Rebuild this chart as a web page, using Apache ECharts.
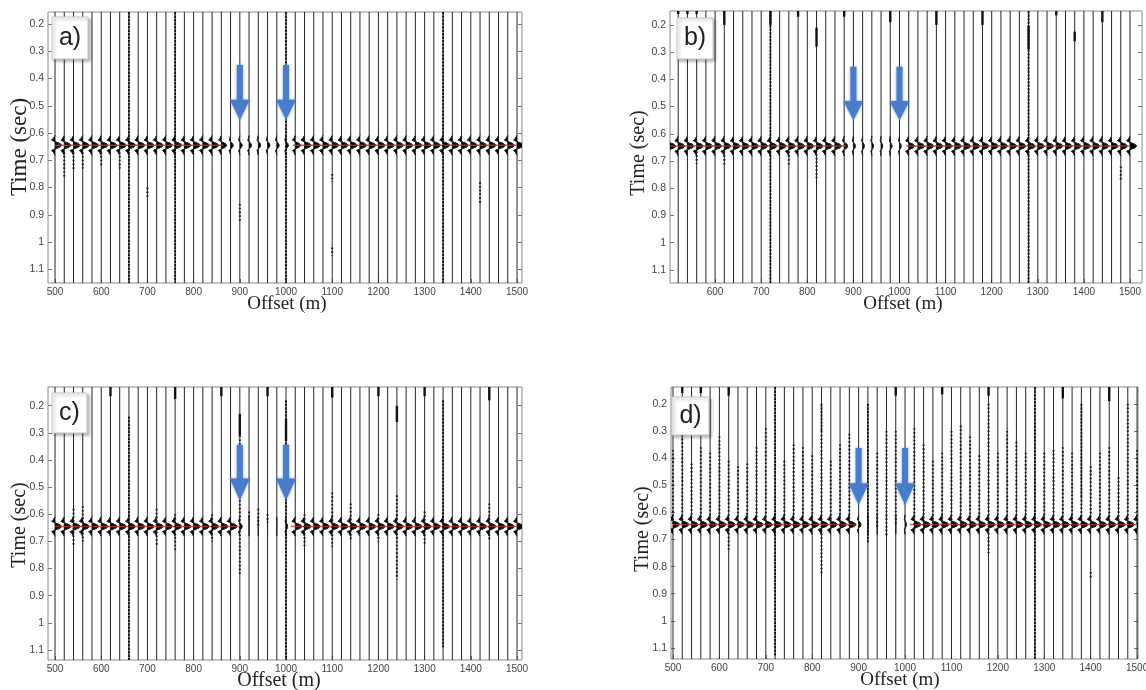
<!DOCTYPE html>
<html><head><meta charset="utf-8">
<script src="https://cdn.jsdelivr.net/npm/echarts@6.0.0/dist/echarts.min.js"></script>
<style>html,body{margin:0;padding:0;background:#fff}#chart{width:1146px;height:690px}</style>
</head><body><div id="chart"></div>
<script>
// ---------------- data ----------------
const offsets = [500,520,540,560,580,600,620,640,660,680,700,720,740,760,780,800,820,840,860,880,900,920,940,960,980,1000,1020,1040,1060,1080,1100,1120,1140,1160,1180,1200,1220,1240,1260,1280,1300,1320,1340,1360,1380,1400,1420,1440,1460,1480,1500];
const xTickValues = [500,600,700,800,900,1000,1100,1200,1300,1400,1500];
const yTickValues = [0.2,0.3,0.4,0.5,0.6,0.7,0.8,0.9,1.0,1.1];
const yTickLabels = ['0.2','0.3','0.4','0.5','0.6','0.7','0.8','0.9','1','1.1'];
const panelLabels = ['a)','b)','c)','d)'];
const eventTime = 0.645;
// wavelet shape (time shift in s, relative amplitude)
const waveletDt  = [-0.036,-0.027,-0.019,-0.012,-0.006,0,0.006,0.012,0.019,0.027,0.036];
const waveletAmp = [0,-0.2,-0.5,0.15,0.8,1,0.8,0.15,-0.5,-0.2,0];
// relative amplitude of the event on each trace (500..1500 m)
const ampA = [1,1,1,1,1,1,1,1,1,1,1,1,1,1,1,1,1,1, 0.8, 0.4, 0.35,0.35,0.35,0.35,0.35,0.35, 0.8, 1,1,1,1,1,1,1,1,1,1,1,1,1,1,1,1,1,1,1,1,1,1,1,1];
const ampB = [1,1,1,1,1,1,1,1,1,1,1,1,1,1,1,1,1,1,1, 0.55, 0.3, 0.25,0.25,0.25,0.25,0.25, 0.9, 1,1,1,1,1,1,1,1,1,1,1,1,1,1,1,1,1,1,1,1,1,1,1,1];
const ampC = [1,1,1,1,1,1,1,1,1,1,1,1,1,1,1,1,1,1,1,1, 0.35, 0,0,0,0, 0.25, 1,1,1,1,1,1,1,1,1,1,1,1,1,1,1,1,1,1,1,1,1,1,1,1,1];
const ampD = [1,1,1,1,1,1,1,1,1,1,1,1,1,1,1,1,1,1,1,1, 0.35, 0,0,0,0, 0.2, 1,1,1,1,1,1,1,1,1,1,1,1,1,1,1,1,1,1,1,1,1,1,1,1,1];
// red picked-event line segments [from offset, to offset]
const redA = [[500,865],[1015,1500]];
const redB = [[500,885],[1015,1500]];
const redC = [[500,897],[1010,1500]];
const redD = [[500,893],[1010,1500]];
// arrows: offsets and [shaft top, head start, tip] times
const arrowOffsets = [900,1000];
const arrowA = [0.350,0.478,0.552];
const arrowB = [0.354,0.480,0.550];
const arrowC = [0.344,0.468,0.548];
const arrowD = [0.363,0.493,0.573];
// noise on traces: [offset, t start, t end, kind] kind 0 = sparse dots, 1 = dense, 2 = solid
const noiseA = [[660,0.156,1.15,1],[760,0.156,1.15,1],[1000,0.156,1.15,1],[1340,0.156,1.15,1],
  [900,0.86,0.93,0],[520,0.67,0.76,0],[540,0.67,0.74,0],[560,0.67,0.73,0],[600,0.67,0.72,0],[640,0.67,0.73,0],
  [700,0.80,0.84,0],[1100,0.75,0.78,0],[1100,1.02,1.05,0],[1420,0.78,0.86,0]];
const noiseB = [[720,0.149,1.148,1],[1280,0.149,1.148,1],[720,0.149,0.20,2],[620,0.149,0.20,2],[780,0.149,0.17,2],
  [880,0.149,0.17,2],[980,0.149,0.19,2],[1080,0.149,0.20,2],[1180,0.149,0.20,2],[1340,0.149,0.165,2],[1440,0.149,0.19,2],
  [520,0.149,0.16,2],[540,0.149,0.16,2],[560,0.149,0.16,2],[820,0.21,0.28,2],[820,0.66,0.77,0],[1280,0.205,0.29,2],
  [1380,0.225,0.26,2],[1480,0.72,0.77,0],[560,0.665,0.71,0],[620,0.665,0.72,0],[760,0.665,0.72,0]];
const noiseC = [[660,0.24,1.137,1],[1000,0.18,1.137,1],[1340,0.18,1.09,1],[900,0.23,0.31,2],[900,0.31,0.82,0],[1000,0.25,0.33,2],
  [620,0.131,0.165,2],[760,0.131,0.175,2],[860,0.131,0.165,2],[960,0.131,0.165,2],[1100,0.131,0.17,2],[1200,0.131,0.165,2],
  [1300,0.131,0.165,2],[1440,0.131,0.18,2],[1240,0.20,0.26,2],[1240,0.53,0.84,0],[1100,0.52,0.72,0],[1140,0.56,0.70,0],
  [540,0.58,0.72,0],[560,0.57,0.70,0],[720,0.58,0.72,0],[760,0.60,0.74,0],[840,0.60,0.70,0],[920,0.59,0.62,0],
  [940,0.58,0.64,0],[960,0.60,0.63,0],[1040,0.60,0.72,0],[1200,0.60,0.70,0],[1300,0.59,0.71,0],[1440,0.56,0.70,0]];
const noiseD = [[500,0.37,0.65,0],[520,0.30,0.65,0],[520,0.138,0.16,2],[540,0.42,0.62,0],[560,0.36,0.66,0],[560,0.138,0.16,2],
  [580,0.38,0.65,0],[600,0.32,0.65,0],[620,0.138,0.17,2],[620,0.41,0.74,0],[640,0.43,0.65,0],[660,0.42,0.65,0],
  [680,0.36,0.65,0],[700,0.29,0.65,0],[720,0.138,1.13,1],[740,0.41,0.65,0],[760,0.35,0.65,0],[780,0.36,0.65,0],
  [800,0.39,0.65,0],[820,0.20,0.30,1],[820,0.30,0.83,0],[840,0.41,0.65,0],[860,0.35,0.65,0],[880,0.31,0.65,0],
  [920,0.20,0.71,1],[940,0.38,0.66,0],[960,0.30,0.69,0],[980,0.138,0.17,2],[980,0.30,0.65,0],[1020,0.29,0.67,0],
  [1040,0.35,0.67,0],[1060,0.41,0.66,0],[1080,0.138,0.165,2],[1080,0.38,0.65,0],[1100,0.30,0.65,0],[1120,0.28,0.65,0],
  [1140,0.32,0.66,0],[1160,0.39,0.65,0],[1180,0.138,0.17,2],[1180,0.20,0.75,0],[1200,0.38,0.65,0],[1220,0.30,0.65,0],
  [1240,0.34,0.65,0],[1260,0.38,0.65,0],[1280,0.138,1.14,1],[1300,0.38,0.65,0],[1320,0.37,0.65,0],[1340,0.138,0.18,2],
  [1340,0.36,0.65,0],[1360,0.38,0.65,0],[1380,0.20,0.54,1],[1380,0.54,0.65,0],[1400,0.43,0.65,0],[1400,0.82,0.84,0],
  [1420,0.38,0.65,0],[1440,0.138,0.19,2],[1440,0.36,0.65,0],[1460,0.47,0.66,0],[1480,0.20,0.65,0],[1500,0.37,0.65,0]];

// ---------------- layout / styles ----------------
const gain = 14; // metres of horizontal deflection for amplitude 1
const noiseStyles = [
  {color:'#1a1a1a', width:2, dash:[1.6,2.2]},
  {color:'#111', width:1.8, dash:[2.5,1]},
  {color:'#111', width:2.4, dash:null}
];
const panels = [
  {grid:{left:48,top:12,width:474,height:271}, x:[484.8,1510.8], y:[0.156,1.150], amp:ampA, red:redA, arrow:arrowA, noise:noiseA,
   box:[52,17,36,42], yT:[20,147,23], xT:[287,304,19]},
  {grid:{left:670,top:11,width:472,height:272}, x:[502.2,1526], y:[0.149,1.148], amp:ampB, red:redB, arrow:arrowB, noise:noiseB,
   box:[677,18,36,41], yT:[639,153,20], xT:[903,304,19]},
  {grid:{left:48,top:387,width:474,height:273}, x:[484.8,1510.8], y:[0.131,1.137], amp:ampC, red:redC, arrow:arrowC, noise:noiseC,
   box:[52,393,35,40], yT:[20,525,20], xT:[279,681,20]},
  {grid:{left:671,top:387,width:467,height:272}, x:[495.7,1502], y:[0.138,1.1405], amp:ampD, red:redD, arrow:arrowD, noise:noiseD,
   box:[672,397,37,38], yT:[643,529,20], xT:[900,680,19]}
];

function traceRenderer(yMin, yMax) {
  return function (params, api) {
    const off = api.value(0), t0 = api.value(1), amp = api.value(2);
    const line = [api.coord([off, yMin])];
    const fill = [api.coord([off, t0 + waveletDt[0]])];
    for (let k = 0; k < waveletDt.length; k++) {
      const d = amp * gain * waveletAmp[k];
      const pt = api.coord([off + d, t0 + waveletDt[k]]);
      line.push(pt);
      fill.push(pt);
    }
    line.push(api.coord([off, yMax]));
    fill.push(api.coord([off, t0 + waveletDt[waveletDt.length - 1]]));
    return {type:'group', children:[
      {type:'polygon', shape:{points:fill}, style:{fill:'#000', stroke:'#000', lineWidth:0.8}},
      {type:'polyline', shape:{points:line}, style:{stroke:'#262626', lineWidth:1, fill:null}}
    ]};
  };
}
function redRenderer(params, api) {
  const a = api.coord([api.value(0), api.value(2)]), b = api.coord([api.value(1), api.value(2)]);
  return {type:'line', shape:{x1:a[0],y1:a[1],x2:b[0],y2:b[1]}, style:{stroke:'#b8392f', lineWidth:1.6, opacity:0.8}};
}
function noiseRenderer(params, api) {
  const off = api.value(0);
  const a = api.coord([off, api.value(1)]), b = api.coord([off, api.value(2)]);
  const s = noiseStyles[api.value(3)];
  return {type:'line', shape:{x1:a[0],y1:a[1],x2:b[0],y2:b[1]}, style:{stroke:s.color, lineWidth:s.width, lineDash:s.dash}};
}
function arrowRenderer(params, api) {
  const off = api.value(0);
  const top = api.coord([off, api.value(1)]), head = api.coord([off, api.value(2)]), tip = api.coord([off, api.value(3)]);
  const x = top[0], sw = 3, hw = 10;
  return {type:'polygon', shape:{points:[[x-sw,top[1]],[x+sw,top[1]],[x+sw,head[1]],[x+hw,head[1]],[x,tip[1]],[x-hw,head[1]],[x-sw,head[1]]]},
    style:{fill:'#4a7cc9', shadowBlur:3, shadowColor:'rgba(74,124,201,0.7)'}};
}
function yLabel(v) {
  const i = yTickValues.findIndex(t => Math.abs(t - v) < 1e-6);
  return i >= 0 ? yTickLabels[i] : '';
}
function xLabel(v) { return String(Math.round(v)); }

const grids = [], xAxes = [], yAxes = [], series = [], graphic = [];
panels.forEach((p, i) => {
  grids.push(Object.assign({show:true, borderColor:'#8a8a8a', borderWidth:1, backgroundColor:'transparent', containLabel:false, outerBoundsMode:'none'}, p.grid));
  const xt = xTickValues.filter(v => v >= p.x[0] && v <= p.x[1]);
  const yt = yTickValues.filter(v => v >= p.y[0] && v <= p.y[1]);
  xAxes.push({gridIndex:i, type:'value', min:p.x[0], max:p.x[1], axisLine:{show:false}, splitLine:{show:false},
    axisTick:{show:true, inside:true, length:4, customValues:xt, lineStyle:{color:'#777'}},
    axisLabel:{customValues:xt, formatter:xLabel, color:'#444', fontSize:10, fontFamily:'Liberation Sans', margin:4}});
  yAxes.push({gridIndex:i, type:'value', inverse:true, min:p.y[0], max:p.y[1], axisLine:{show:false}, splitLine:{show:false},
    axisTick:{show:true, inside:true, length:4, customValues:yt, lineStyle:{color:'#777'}},
    axisLabel:{customValues:yt, formatter:yLabel, color:'#444', fontSize:10.5, fontFamily:'Liberation Sans', margin:4}});
  yAxes.push({gridIndex:i, type:'value', inverse:true, position:'right', min:p.y[0], max:p.y[1], axisLine:{show:false}, splitLine:{show:false},
    axisTick:{show:true, inside:true, length:4, customValues:yt, lineStyle:{color:'#777'}}, axisLabel:{show:false}});
  const yIdx = i * 2;
  series.push({type:'custom', xAxisIndex:i, yAxisIndex:yIdx, clip:true, z:1, silent:true,
    data:offsets.map((o, k) => [o, eventTime, p.amp[k]]), encode:{x:0, y:1}, renderItem:traceRenderer(p.y[0], p.y[1])});
  series.push({type:'custom', xAxisIndex:i, yAxisIndex:yIdx, clip:true, z:2, silent:true,
    data:p.red.map(s => [s[0], s[1], eventTime]), encode:{x:[0,1], y:2}, renderItem:redRenderer});
  series.push({type:'custom', xAxisIndex:i, yAxisIndex:yIdx, clip:true, z:3, silent:true,
    data:p.noise, encode:{x:0, y:[1,2]}, renderItem:noiseRenderer});
  series.push({type:'custom', xAxisIndex:i, yAxisIndex:yIdx, clip:true, z:5, silent:true,
    data:arrowOffsets.map(o => [o, p.arrow[0], p.arrow[1], p.arrow[2]]), encode:{x:0, y:[1,2,3]}, renderItem:arrowRenderer});
  graphic.push({type:'rect', z:100, shape:{x:p.box[0], y:p.box[1], width:p.box[2], height:p.box[3]},
    style:{fill:'#fff', stroke:'#c8c8c8', lineWidth:1, shadowBlur:3, shadowOffsetX:2, shadowOffsetY:2, shadowColor:'rgba(0,0,0,0.3)'}});
  graphic.push({type:'text', z:101, x:p.box[0] + p.box[2] / 2, y:p.box[1] + p.box[3] / 2,
    style:{text:panelLabels[i], fill:'#222', font:'25px "Liberation Sans", Arial, sans-serif', align:'center', verticalAlign:'middle'}});
  graphic.push({type:'text', z:101, x:p.yT[0], y:p.yT[1], rotation:Math.PI / 2,
    style:{text:'Time (sec)', fill:'#222', font:p.yT[2] + 'px "Liberation Serif", "Times New Roman", serif', align:'center', verticalAlign:'middle'}});
  graphic.push({type:'text', z:101, x:p.xT[0], y:p.xT[1],
    style:{text:'Offset (m)', fill:'#222', font:p.xT[2] + 'px "Liberation Serif", "Times New Roman", serif', align:'center', verticalAlign:'middle'}});
});

const chart = echarts.init(document.getElementById('chart'), null, {renderer:'canvas'});
chart.setOption({animation:false, backgroundColor:'#fff', grid:grids, xAxis:xAxes, yAxis:yAxes, series:series, graphic:graphic});
</script></body></html>
